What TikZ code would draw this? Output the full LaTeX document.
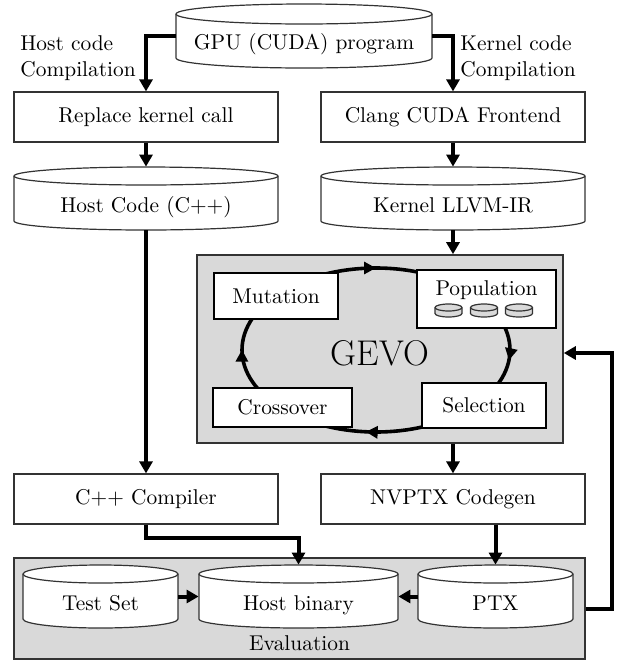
\documentclass[tikz,border=0pt]{standalone}
\usetikzlibrary{arrows.meta,decorations.markings,calc}
\definecolor{panelgray}{gray}{0.85}
\definecolor{edgegray}{gray}{0.2}
\newcommand\cylshape[6]{% cx, top, w, h, ry, fill
  \filldraw[fill=#6, draw=edgegray, line width=0.6pt]
    ({#1-#3/2},{-#2-#5}) -- ({#1-#3/2},{-#2-#4+#5})
    arc[start angle=180,end angle=360,x radius={#3/2},y radius=#5]
    -- ({#1+#3/2},{-#2-#5})
    arc[start angle=0,end angle=180,x radius={#3/2},y radius=#5] -- cycle;
  \draw[draw=edgegray, line width=0.6pt] ({#1-#3/2},{-#2-#5})
    arc[start angle=180,end angle=360,x radius={#3/2},y radius=#5];
}
\begin{document}
\begin{tikzpicture}[x=0.5pt,y=0.5pt,
  every node/.style={font=\fontsize{10.7}{13}\selectfont, inner sep=0pt},
  box/.style={draw=edgegray, line width=0.6pt, fill=white, minimum width=132pt, minimum height=25pt},
  gbox/.style={draw=black, line width=0.8pt, fill=white},
  panel/.style={draw=edgegray, line width=0.8pt, fill=panelgray},
  cyltext/.style={text height=22.5pt, text depth=9pt},
  arr/.style={line width=2pt, -{Triangle[length=6pt,width=6.5pt]}},
  cycle arrow/.style={line width=1.8pt, postaction={decorate},
    decoration={markings,
      mark=at position 0.0005 with {\arrow{Triangle[length=6pt,width=6pt]}},
      mark=at position 0.25 with {\arrow{Triangle[length=6pt,width=6pt]}},
      mark=at position 0.515 with {\arrow{Triangle[length=6pt,width=6pt]}},
      mark=at position 0.765 with {\arrow{Triangle[length=6pt,width=6pt]}}}},
  lbl/.style={align=left, anchor=west}
]
\useasboundingbox (0,0) rectangle (621,-660);

% Evaluation panel
\node[panel, minimum width=285.5pt, minimum height=50.5pt, text height=46pt, text depth=4.5pt]
  (eval) at (299.5,-608.5) {Evaluation};

% GEVO panel
\node[panel, minimum width=183pt, minimum height=94pt, text height=55pt, text depth=39pt,
  font=\fontsize{17.9}{20}\selectfont] (gevo) at (380,-349) {GEVO};

% evolutionary cycle
\draw[cycle arrow] (242,-350) arc[start angle=180,end angle=-180,x radius=134,y radius=82];

% GEVO inner boxes
\node[gbox, minimum width=62pt, minimum height=23pt] (mut) at (276,-296) {Mutation};
\node[gbox, minimum width=69.5pt, text height=12.8pt, text depth=16.2pt] (pop) at (486.5,-299) {Population};
\node[gbox, minimum width=69.5pt, minimum height=19.5pt] (cross) at (282.5,-407.5) {Crossover};
\node[gbox, minimum width=62pt, minimum height=22.5pt] (sel) at (484,-405.5) {Selection};
\cylshape{448.5}{304}{27}{13}{3.5}{panelgray}
\cylshape{484}{304}{27}{13}{3.5}{panelgray}
\cylshape{519}{304}{27}{13}{3.5}{panelgray}

% cylinders
\cylshape{304}{4}{256}{64}{10}{white}
\node[cyltext, minimum width=128pt] (gpu) at (304,-36) {GPU (CUDA) program};
\cylshape{146}{167}{264}{63}{9}{white}
\node[cyltext, minimum width=132pt] (host) at (146,-198.5) {Host Code (C++)};
\cylshape{453}{167}{264}{63}{9}{white}
\node[cyltext, minimum width=132pt] (kir) at (453,-198.5) {Kernel LLVM-IR};
\cylshape{100.5}{565}{155}{63}{9}{white}
\node[cyltext, minimum width=77.5pt] (test) at (100.5,-596.5) {Test Set};
\cylshape{298.5}{565}{199}{63}{9}{white}
\node[cyltext, minimum width=99.5pt] (hbin) at (298.5,-596.5) {Host binary};
\cylshape{495.5}{565}{155}{63}{9}{white}
\node[cyltext, minimum width=77.5pt] (ptx) at (495.5,-596.5) {PTX};

% boxes
\node[box] (repl) at (146,-117) {Replace kernel call};
\node[box] (clang) at (453,-117) {Clang CUDA Frontend};
\node[box] (cpp) at (146,-499) {C++ Compiler};
\node[box] (nvptx) at (453,-499) {NVPTX Codegen};

% labels
\node[lbl] (hlbl) at (20,-58) {Host code\\Compilation};
\node[lbl] (klbl) at (460,-58) {Kernel code\\Compilation};

% connectors
\draw[arr] (gpu.west) -| (repl.north);
\draw[arr] (gpu.east) -| (clang.north);
\draw[arr] (repl.south) -- (host.north);
\draw[arr] (clang.south) -- (kir.north);
\draw[arr] (host.south) -- (cpp.north);
\draw[arr] (kir.south) -- (kir.south |- gevo.north);
\draw[arr] (nvptx.north |- gevo.south) -- (nvptx.north);
\coordinate (cppturn) at (146,-538);
\draw[arr] (cpp.south) -- (cppturn) -| (hbin.north);
\draw[arr] (ptx.north |- nvptx.south) -- (ptx.north);
\draw[arr] (test.east) -- (hbin.west);
\draw[arr] (ptx.west) -- (hbin.east);
\coordinate (fbk) at (612,-353);
\draw[arr] (eval.east) -| (fbk) -- (gevo.east |- fbk);
\end{tikzpicture}
\end{document}
